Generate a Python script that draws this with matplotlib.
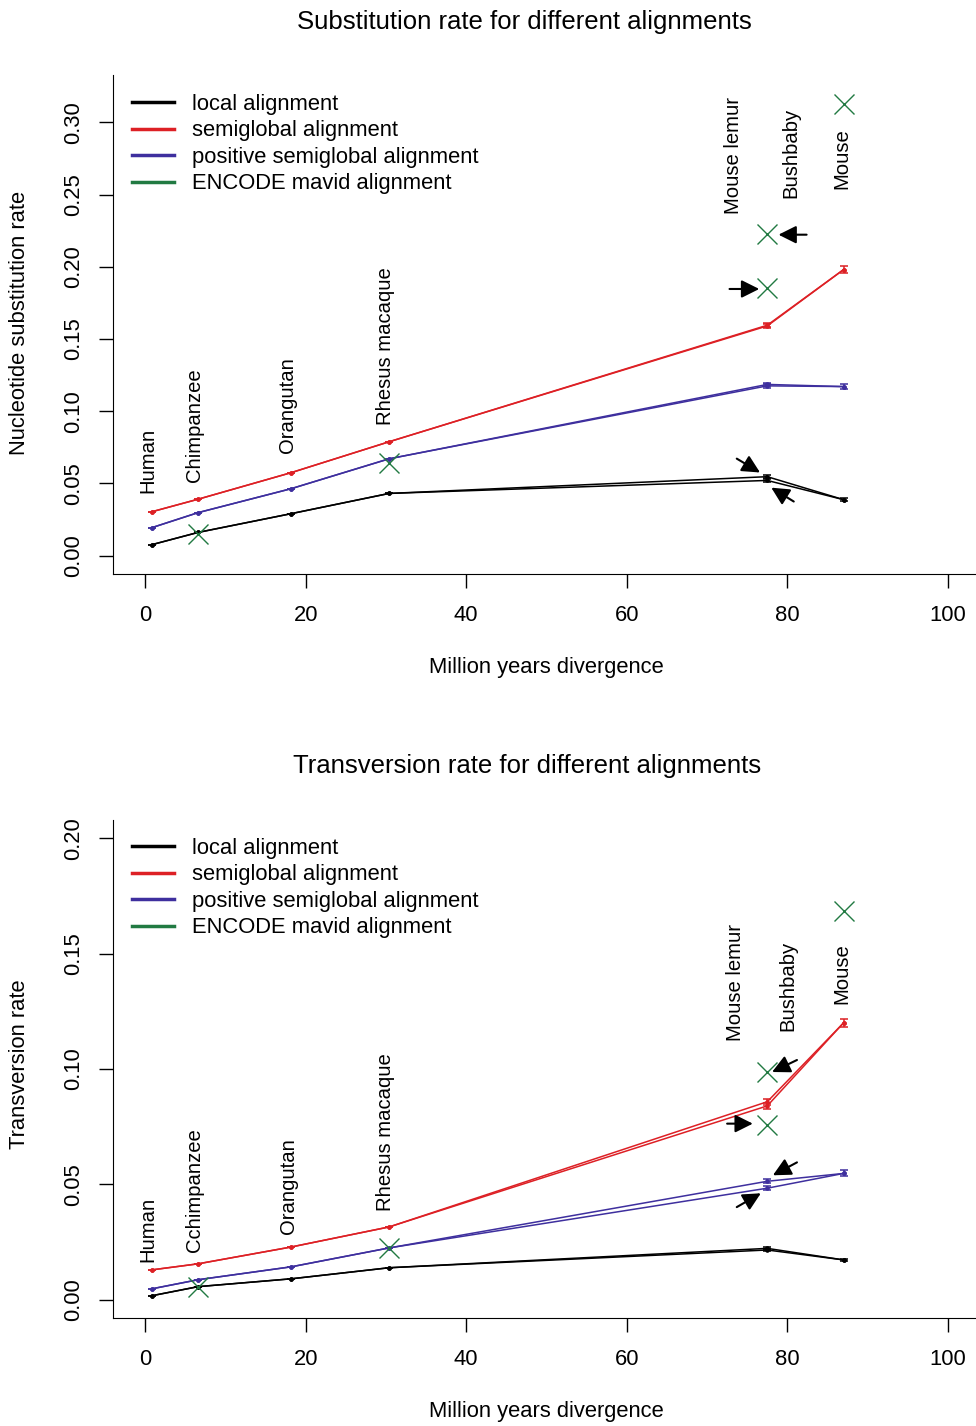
import matplotlib
matplotlib.use("Agg")
import matplotlib.pyplot as plt
from matplotlib.lines import Line2D

plt.rcParams['font.family'] = ['Liberation Sans', 'DejaVu Sans']

# divergence times (million years): human, chimp, orangutan, rhesus, mouse lemur, bushbaby, mouse
species_top = ['Human', 'Chimpanzee', 'Orangutan', 'Rhesus macaque', 'Mouse lemur', 'Bushbaby', 'Mouse']
species_bot = ['Human', 'Cchimpanzee', 'Orangutan', 'Rhesus macaque', 'Mouse lemur', 'Bushbaby', 'Mouse']
myears = [0.9, 6.6, 18.2, 30.4, 77.5, 77.5, 87.0]

# substitution rate
sub_local = [0.0076, 0.016, 0.029, 0.043, 0.0546, 0.052, 0.0387]
sub_semi = [0.0304, 0.039, 0.0574, 0.0788, 0.1595, 0.159, 0.198]
sub_pos = [0.0194, 0.0297, 0.0463, 0.067, 0.1185, 0.1175, 0.117]
sub_err_local = [0, 0, 0, 0, 0.001, 0.001, 0.001]
sub_err_semi = [0, 0, 0, 0, 0.0012, 0.0012, 0.0025]
sub_err_pos = [0, 0, 0, 0, 0.0012, 0.0012, 0.002]
sub_encode_x = [6.6, 30.4, 77.5, 77.5, 87.0]
sub_encode = [0.0152, 0.0643, 0.185, 0.2227, 0.313]

# transversion rate
tv_local = [0.0017, 0.0056, 0.009, 0.0138, 0.0222, 0.0215, 0.0172]
tv_semi = [0.0129, 0.0155, 0.0228, 0.0315, 0.0858, 0.084, 0.120]
tv_pos = [0.0047, 0.0086, 0.0142, 0.0224, 0.0513, 0.0483, 0.0547]
tv_err_local = [0, 0, 0, 0, 0.0006, 0.0006, 0.0006]
tv_err_semi = [0, 0, 0, 0, 0.0012, 0.0012, 0.0019]
tv_err_pos = [0, 0, 0, 0, 0.0008, 0.0008, 0.0013]
tv_encode_x = [6.6, 30.4, 77.5, 77.5, 87.0]
tv_encode = [0.0056, 0.0224, 0.0987, 0.0759, 0.1685]

# species label anchors (x, y of text bottom)
sub_lab_x = [0.4, 6.2, 17.7, 30.0, 73.3, 80.4, 86.8]
sub_lab_y = [0.0436, 0.051, 0.071, 0.0906, 0.2365, 0.2476, 0.254]
tv_lab_x = [0.4, 6.2, 17.8, 29.9, 73.6, 80.1, 86.8]
tv_lab_y = [0.0164, 0.0207, 0.0284, 0.0384, 0.112, 0.1164, 0.128]

# arrows: (tail x, tail y, head x, head y)
sub_arrows = [(72.8, 0.1846, 76.5, 0.1846), (82.4, 0.2222, 78.9, 0.2222),
              (73.7, 0.0671, 76.6, 0.0575), (80.8, 0.0374, 78.0, 0.0470)]
tv_arrows = [(81.2, 0.1039, 78.1, 0.0987), (72.5, 0.0763, 75.7, 0.0763),
             (81.2, 0.0595, 78.2, 0.0539), (73.7, 0.0401, 76.7, 0.0461)]

col_local = 'black'
col_semi = '#dd2025'
col_pos = '#3e2f9e'
col_enc = '#217a42'
labels = ['local alignment', 'semiglobal alignment', 'positive semiglobal alignment',
          'ENCODE mavid alignment']

FS = 15.8
FS_SP = 14.6


def draw_series(ax, vals, errs, col):
    # two paths: via mouse lemur and via bushbaby
    for skip in (5, 4):
        idx = [i for i in range(7) if i != skip]
        ax.plot([myears[i] for i in idx], [vals[i] for i in idx], color=col, lw=1.1,
                marker='o', ms=2.3, zorder=3)
    ax.errorbar(myears, vals, yerr=errs, fmt='none', ecolor=col, elinewidth=1.1,
                capsize=3, capthick=1.1, zorder=3)


def panel(ax, series, encx, ency, names, labx, laby, arrows, ylim, yticks, leg_y):
    for vals, errs, col in series:
        draw_series(ax, vals, errs, col)
    ax.plot(encx, ency, ls='none', marker='x', ms=14, mew=1.0, color=col_enc, zorder=4)
    for name, x, y in zip(names, labx, laby):
        ax.text(x, y, name, rotation=90, ha='center', va='bottom', fontsize=FS_SP)
    for tx, ty, hx, hy in arrows:
        ax.annotate('', xy=(hx, hy), xytext=(tx, ty),
                    arrowprops=dict(arrowstyle='-|>', color='black', lw=1.5,
                                    mutation_scale=27, shrinkA=0, shrinkB=0))
    ax.set_xlim(-4, 104)
    ax.set_ylim(*ylim)
    ax.set_xticks([0, 20, 40, 60, 80, 100])
    ax.set_yticks(yticks)
    ax.set_yticklabels(['%.2f' % t for t in yticks], rotation=90, va='center')
    ax.tick_params(length=10, width=1, labelsize=FS, direction='out')
    ax.tick_params(axis='x', pad=12.5)
    ax.tick_params(axis='y', pad=11)
    ax.spines['top'].set_visible(False)
    ax.spines['right'].set_visible(False)
    handles = [Line2D([], [], color=c, lw=2.5) for c in (col_local, col_semi, col_pos, col_enc)]
    ax.legend(handles, labels, loc='upper left', bbox_to_anchor=(0.022, leg_y), frameon=False,
              fontsize=FS, borderpad=0, borderaxespad=0, handlelength=1.92,
              handletextpad=0.82, labelspacing=0.25)


fig = plt.figure(figsize=(9.76, 14.26), dpi=100)
ax1 = fig.add_axes([113 / 976, 1 - 574 / 1426, 867 / 976, 499 / 1426])
ax2 = fig.add_axes([113 / 976, 1 - 1318 / 1426, 867 / 976, 498 / 1426])

panel(ax1, [(sub_local, sub_err_local, col_local), (sub_pos, sub_err_pos, col_pos),
            (sub_semi, sub_err_semi, col_semi)],
      sub_encode_x, sub_encode, species_top, sub_lab_x, sub_lab_y, sub_arrows,
      (-0.0128, 0.3328), [0.0, 0.05, 0.10, 0.15, 0.20, 0.25, 0.30], 0.962)
panel(ax2, [(tv_local, tv_err_local, col_local), (tv_pos, tv_err_pos, col_pos),
            (tv_semi, tv_err_semi, col_semi)],
      tv_encode_x, tv_encode, species_bot, tv_lab_x, tv_lab_y, tv_arrows,
      (-0.008, 0.208), [0.0, 0.05, 0.10, 0.15, 0.20], 0.964)

fig.text(524 / 976, 1 - 22 / 1426, 'Substitution rate for different alignments',
         ha='center', va='center', fontsize=18.5)
fig.text(527 / 976, 1 - 766 / 1426, 'Transversion rate for different alignments',
         ha='center', va='center', fontsize=18.5)
fig.text(546 / 976, 1 - 668 / 1426, 'Million years divergence', ha='center', va='center', fontsize=FS)
fig.text(546 / 976, 1 - 1412 / 1426, 'Million years divergence', ha='center', va='center', fontsize=FS)
fig.text(20 / 976, 1 - 323 / 1426, 'Nucleotide substitution rate', ha='center', va='center',
         rotation=90, fontsize=FS)
fig.text(20 / 976, 1 - 1064 / 1426, 'Transversion rate', ha='center', va='center',
         rotation=90, fontsize=FS)

fig.savefig('out.png', dpi=100)
